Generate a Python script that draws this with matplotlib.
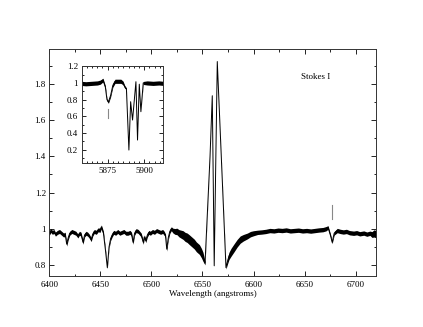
import matplotlib
matplotlib.use("Agg")
import matplotlib.pyplot as plt
from matplotlib.ticker import MultipleLocator, AutoMinorLocator, FuncFormatter

# main spectrum around H-alpha (wavelength, normalised flux, noise half width)
wl_main = [6400, 6401.5, 6403, 6404.5, 6406, 6408, 6410, 6412, 6414, 6415.5, 6417,
           6418.5, 6420, 6422, 6424, 6426, 6428, 6429.5, 6431, 6433, 6434.5,
           6436, 6437.5, 6439, 6441, 6442.5, 6444, 6446, 6448, 6449.5, 6451,
           6453, 6455, 6456.8, 6458.5, 6460, 6461.5, 6463, 6465, 6467, 6469,
           6471, 6473, 6475, 6477, 6479, 6480.5, 6482, 6483.5, 6485, 6487,
           6488.5, 6490, 6492, 6493, 6494.5, 6496, 6497.5, 6499, 6501, 6503,
           6505, 6507, 6509, 6511, 6512.5, 6513.8, 6515, 6516.5, 6518, 6519.5,
           6521, 6523, 6525, 6527, 6529, 6531, 6533, 6535, 6537, 6539, 6542,
           6544, 6547, 6549, 6550.5, 6552.5, 6557.4, 6559.6, 6561.5, 6564.5,
           6573, 6574.5, 6576, 6578, 6581, 6584, 6587, 6590, 6594, 6597, 6600,
           6604, 6608, 6612, 6616, 6620, 6624, 6628, 6632, 6636, 6640, 6644,
           6648, 6652, 6656, 6660, 6664, 6668, 6671, 6673, 6675.5, 6677, 6679,
           6682, 6685, 6688, 6691, 6694, 6698, 6701, 6704, 6708, 6711, 6714,
           6716, 6718, 6720]
flux_main = [0.975, 0.99, 0.98, 0.985, 0.97, 0.98, 0.985, 0.975, 0.965, 0.97, 0.915,
             0.95, 0.975, 0.985, 0.98, 0.975, 0.96, 0.975, 0.97, 0.925, 0.965,
             0.975, 0.97, 0.96, 0.94, 0.97, 0.985, 0.98, 0.995, 0.99, 1.01,
             0.975, 0.88, 0.785, 0.9, 0.945, 0.965, 0.98, 0.975, 0.985, 0.975,
             0.98, 0.985, 0.975, 0.975, 0.98, 0.97, 0.925, 0.975, 0.99, 0.985,
             0.975, 0.965, 0.925, 0.955, 0.935, 0.965, 0.98, 0.975, 0.985, 0.98,
             0.99, 0.985, 0.98, 0.985, 0.975, 0.96, 0.887, 0.95, 0.985, 1.0,
             0.99, 0.985, 0.985, 0.975, 0.97, 0.965, 0.955, 0.95, 0.94, 0.93, 0.915,
             0.9, 0.885, 0.865, 0.845, 0.81, 1.40, 1.735, 0.795, 1.924,
             0.785, 0.82, 0.85, 0.87, 0.895, 0.92, 0.94, 0.95, 0.96, 0.97, 0.975,
             0.98, 0.982, 0.985, 0.99, 0.988, 0.992, 0.99, 0.993, 0.988, 0.99, 0.992,
             0.988, 0.99, 0.987, 0.99, 0.993, 0.995, 1.0, 1.007, 0.96, 0.925, 0.975,
             0.99, 0.985, 0.982, 0.985, 0.978, 0.975, 0.978, 0.972, 0.976, 0.97, 0.975,
             0.968, 0.974, 0.97]
noise_main = [0.011, 0.011, 0.011, 0.011, 0.011, 0.011, 0.011, 0.011, 0.011, 0.011, 0.011,
              0.011, 0.011, 0.011, 0.011, 0.011, 0.011, 0.011, 0.011, 0.011, 0.011,
              0.011, 0.011, 0.011, 0.011, 0.011, 0.011, 0.011, 0.011, 0.011, 0.011,
              0.011, 0.008, 0.006, 0.008, 0.011, 0.011, 0.011, 0.011, 0.011, 0.011,
              0.011, 0.011, 0.011, 0.011, 0.011, 0.011, 0.011, 0.011, 0.011, 0.011,
              0.011, 0.011, 0.011, 0.011, 0.011, 0.011, 0.011, 0.011, 0.011, 0.011,
              0.011, 0.011, 0.011, 0.011, 0.011, 0.011, 0.011, 0.011, 0.011, 0.011,
              0.013, 0.016, 0.018, 0.02, 0.022, 0.024, 0.025, 0.026, 0.027, 0.027, 0.027,
              0.027, 0.027, 0.026, 0.025, 0.01, 0.003, 0.0, 0.0, 0.0,
              0.008, 0.015, 0.02, 0.022, 0.022, 0.021, 0.02, 0.018, 0.016, 0.015, 0.014,
              0.012, 0.012, 0.012, 0.012, 0.012, 0.012, 0.012, 0.012, 0.012, 0.012, 0.012,
              0.012, 0.012, 0.012, 0.012, 0.012, 0.012, 0.012, 0.01, 0.008, 0.008, 0.01,
              0.012, 0.012, 0.012, 0.012, 0.012, 0.012, 0.012, 0.012, 0.012, 0.012, 0.012,
              0.016, 0.02, 0.02]

# inset: He I 5876 and Na D region
wl_na = [5857, 5860, 5864, 5868, 5870, 5871.8, 5873.4, 5874.5, 5875.5, 5877,
         5878.5, 5880, 5884, 5885.5, 5886.6, 5887.8, 5889.5, 5890.7, 5892,
         5894.3, 5895.4, 5896.6, 5897.7, 5899.3, 5902, 5906, 5910, 5913]
flux_na = [0.995, 0.99, 0.995, 1.0, 1.01, 1.035, 0.95, 0.80, 0.77, 0.85,
           0.97, 1.02, 1.02, 1.0, 0.955, 0.93, 0.195, 0.775, 0.555,
           1.015, 0.315, 0.985, 0.655, 1.0, 1.0, 0.995, 1.0, 0.995]
noise_na = [0.025, 0.025, 0.025, 0.025, 0.025, 0.022, 0.018, 0.015, 0.015, 0.018,
            0.022, 0.025, 0.025, 0.022, 0.018, 0.01, 0.0, 0.0, 0.0,
            0.0, 0.0, 0.0, 0.0, 0.018, 0.025, 0.025, 0.025, 0.025]

# line identification marks
mark_main = (6677, 1.055, 1.13)
mark_na = (5875, 0.58, 0.69)

plt.rcParams['font.family'] = ['Liberation Serif', 'DejaVu Serif']
plt.rcParams['font.size'] = 6.5

fig = plt.figure(figsize=(4.23, 3.27), dpi=100)
ax = fig.add_axes([0.1166, 0.155, 0.7724, 0.695])


def style(a, major_len, minor_len):
    a.tick_params(which='both', direction='in', top=True, right=True,
                  width=0.6, colors='black', labelsize=6.5, pad=2.5)
    a.tick_params(which='major', length=major_len)
    a.tick_params(which='minor', length=minor_len)
    a.yaxis.set_major_formatter(FuncFormatter(lambda v, p: '%g' % round(v, 3)))
    a.xaxis.set_major_formatter(FuncFormatter(lambda v, p: '%g' % round(v, 3)))
    for s in a.spines.values():
        s.set_linewidth(0.7)
        s.set_color('#333333')


lo = [f - n for f, n in zip(flux_main, noise_main)]
hi = [f + n for f, n in zip(flux_main, noise_main)]
ax.fill_between(wl_main, lo, hi, color='black', linewidth=0)
ax.plot(wl_main, flux_main, color='black', linewidth=0.7)
ax.plot([mark_main[0], mark_main[0]], mark_main[1:], color='#888888', linewidth=0.8)
ax.set_xlim(6400, 6720)
ax.set_ylim(0.737, 1.993)
ax.xaxis.set_major_locator(MultipleLocator(50))
ax.xaxis.set_minor_locator(MultipleLocator(25))
ax.yaxis.set_major_locator(MultipleLocator(0.2))
ax.yaxis.set_minor_locator(MultipleLocator(0.1))
style(ax, 3.6, 1.8)
ax.tick_params(axis='x', pad=3.5)
ax.set_xlabel('Wavelength (angstroms)', fontsize=6.5, labelpad=0.5)
ax.text(0.77, 0.875, 'Stokes I', transform=ax.transAxes, fontsize=6.5, va='center')

ins = fig.add_axes([0.193, 0.5006, 0.193, 0.2985])
lo2 = [f - n for f, n in zip(flux_na, noise_na)]
hi2 = [f + n for f, n in zip(flux_na, noise_na)]
ins.fill_between(wl_na, lo2, hi2, color='black', linewidth=0)
ins.plot(wl_na, flux_na, color='black', linewidth=0.7)
ins.plot([mark_na[0], mark_na[0]], mark_na[1:], color='#888888', linewidth=0.8)
ins.set_xlim(5857.2, 5913)
ins.set_ylim(0.036, 1.207)
ins.xaxis.set_major_locator(MultipleLocator(25))
ins.xaxis.set_minor_locator(AutoMinorLocator(7))
ins.yaxis.set_major_locator(MultipleLocator(0.2))
ins.yaxis.set_minor_locator(MultipleLocator(0.1))
style(ins, 2.6, 1.4)
ins.set_yticks([0.2, 0.4, 0.6, 0.8, 1.0, 1.2])

fig.savefig('out.png', dpi=100)
